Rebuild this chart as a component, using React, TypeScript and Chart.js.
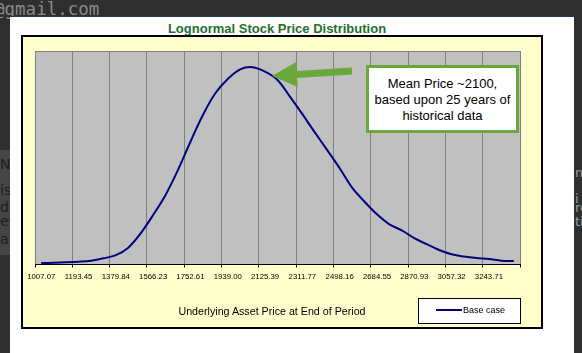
import React, { useEffect, useRef } from 'react';
import { Chart, registerables } from 'chart.js';

Chart.register(...registerables);

// ---- data ----
const categories: string[] = [
  '1007.07', '1069.20', '1131.33', '1193.45', '1255.58', '1317.71', '1379.84', '1441.97',
  '1504.10', '1566.23', '1628.36', '1690.48', '1752.61', '1814.74', '1876.87', '1939.00',
  '2001.13', '2063.26', '2125.39', '2187.52', '2249.64', '2311.77', '2373.90', '2436.03',
  '2498.16', '2560.29', '2622.42', '2684.55', '2746.67', '2808.80', '2870.93', '2933.06',
  '2995.19', '3057.32', '3119.45', '3181.58', '3243.71', '3305.83', '3367.96',
];

const baseCase: number[] = [
  0.07, 0.08, 0.10, 0.13, 0.18, 0.29, 0.44, 0.79,
  1.46, 2.32, 3.26, 4.43, 5.75, 7.00, 8.02, 8.69,
  9.14, 9.24, 9.03, 8.64, 7.86, 7.04, 6.19, 5.36,
  4.51, 3.60, 2.94, 2.35, 1.88, 1.60, 1.23, 0.95,
  0.68, 0.48, 0.37, 0.30, 0.26, 0.18, 0.16,
];

const LABEL_EVERY = 3;
const Y_MAX = 10;

const chartTitle = 'Lognormal Stock Price Distribution';
const xAxisTitle = 'Underlying Asset Price at End of Period';
const seriesName = 'Base case';
const noteLines = ['Mean Price ~2100,', 'based upon 25 years of', 'historical data'];

const FONT = "'Liberation Sans', Arial, sans-serif";
const NAVY = '#000080';
const GREEN = '#6aa83c';

export default function App() {
  const ref = useRef<HTMLCanvasElement>(null);

  useEffect(() => {
    document.body.style.margin = '0';
    const canvas = ref.current;
    if (!canvas) return;

    const plotBg = {
      id: 'plotBg',
      beforeDraw(chart: any) {
        const { ctx, chartArea: a } = chart;
        ctx.save();
        ctx.fillStyle = '#c0c0c0';
        ctx.fillRect(a.left, a.top, a.right - a.left, a.bottom - a.top);
        ctx.strokeStyle = '#808080';
        ctx.lineWidth = 1;
        ctx.beginPath();
        const ty = Math.round(a.top) + 0.5;
        ctx.moveTo(a.left, ty);
        ctx.lineTo(a.right, ty);
        ctx.stroke();
        ctx.restore();
      },
    };

    const arrow = {
      id: 'arrow',
      afterDatasetsDraw(chart: any) {
        const { ctx, chartArea: a } = chart;
        const tx = a.left + 237;
        const ty = a.top + 25;
        const dx = 80, dy = -5;
        const len = Math.hypot(dx, dy);
        const ux = dx / len, uy = dy / len;
        const nx = -uy, ny = ux;
        const headLen = 25, headHalf = 12.5, shaftHalf = 3.5;
        const bx = tx + ux * headLen, by = ty + uy * headLen;
        const ex = tx + dx, ey = ty + dy;
        ctx.save();
        ctx.fillStyle = GREEN;
        ctx.beginPath();
        ctx.moveTo(tx, ty);
        ctx.lineTo(bx + nx * headHalf, by + ny * headHalf);
        ctx.lineTo(bx + nx * shaftHalf, by + ny * shaftHalf);
        ctx.lineTo(ex + nx * shaftHalf, ey + ny * shaftHalf);
        ctx.lineTo(ex - nx * shaftHalf, ey - ny * shaftHalf);
        ctx.lineTo(bx - nx * shaftHalf, by - ny * shaftHalf);
        ctx.lineTo(bx - nx * headHalf, by - ny * headHalf);
        ctx.closePath();
        ctx.fill();
        ctx.restore();
      },
    };

    const shown = (c: any) => c.index === undefined || c.index % LABEL_EVERY === 0;

    const chart = new Chart(canvas, {
      type: 'line',
      data: {
        labels: categories,
        datasets: [
          {
            label: seriesName,
            data: baseCase,
            borderColor: NAVY,
            backgroundColor: NAVY,
            borderWidth: 2,
            pointRadius: 0,
            tension: 0.35,
            fill: false,
          },
        ],
      },
      options: {
        animation: false,
        responsive: false,
        devicePixelRatio: 1,
        layout: { padding: { left: 35, right: 62, top: 51, bottom: 0 } },
        plugins: {
          legend: { display: false },
          title: { display: false },
          tooltip: { enabled: false },
        },
        scales: {
          x: {
            type: 'category',
            offset: true,
            grid: {
              offset: true,
              drawOnChartArea: true,
              drawTicks: true,
              tickLength: 3,
              lineWidth: 1,
              color: (c: any) => (shown(c) ? '#808080' : 'rgba(0,0,0,0)'),
              tickColor: (c: any) => (shown(c) ? '#000000' : 'rgba(0,0,0,0)'),
            },
            border: { display: true, color: '#000000', width: 1 },
            ticks: {
              autoSkip: false,
              maxRotation: 0,
              minRotation: 0,
              padding: 5,
              color: '#000000',
              font: { family: FONT, size: 7.8 },
              callback: function (this: any, value: any, index: number) {
                return index % LABEL_EVERY === 0 ? this.getLabelForValue(value) : '';
              },
            },
            afterFit: (scale: any) => {
              scale.height = 88.5;
            },
          },
          y: {
            display: false,
            min: 0,
            max: Y_MAX,
          },
        },
      } as any,
      plugins: [plotBg, arrow],
    });

    return () => chart.destroy();
  }, []);

  const abs: React.CSSProperties = { position: 'absolute' };
  const centered: React.CSSProperties = {
    position: 'absolute',
    transform: 'translate(-50%, -50%)',
    whiteSpace: 'nowrap',
    lineHeight: 1,
    fontFamily: FONT,
  };

  return (
    <div
      style={{
        position: 'fixed',
        left: 0,
        top: 0,
        width: 582,
        height: 353,
        background: '#2f2f2f',
        overflow: 'hidden',
      }}
    >
      {/* background page fragments */}
      <div
        style={{
          ...abs,
          left: -6,
          top: 1,
          fontFamily: "'DejaVu Sans Mono', monospace",
          fontSize: 17.5,
          lineHeight: 1,
          color: '#8a8a8a',
          whiteSpace: 'nowrap',
        }}
      >
        @gmail.com
      </div>
      <div style={{ ...abs, left: 0, top: 150, width: 10, height: 105, background: '#454545' }} />
      {['N', 'is', 'd', 'evi', 'a'].map((t, i) => (
        <div
          key={i}
          style={{
            ...abs,
            left: 0,
            top: [157, 183, 200, 214, 232][i],
            fontFamily: "'DejaVu Sans', sans-serif",
            fontSize: 14,
            lineHeight: 1,
            color: '#1c1c2c',
            whiteSpace: 'nowrap',
          }}
        >
          {t}
        </div>
      ))}
      {['na', 'i', 're', 'ti'].map((t, i) => (
        <div
          key={'r' + i}
          style={{
            ...abs,
            left: 575,
            top: [166, 192, 201, 215][i],
            fontFamily: "'DejaVu Sans', sans-serif",
            fontSize: 13,
            lineHeight: 1,
            color: '#9a9a9a',
            whiteSpace: 'nowrap',
          }}
        >
          {t}
        </div>
      ))}

      {/* white modal */}
      <div
        style={{
          ...abs,
          left: 10,
          top: 16,
          width: 564,
          height: 337,
          background: '#ffffff',
          borderTop: '1px solid #1e3a5a',
          boxSizing: 'border-box',
        }}
      />

      {/* chart title */}
      <div
        style={{
          ...centered,
          left: 277,
          top: 28,
          fontSize: 13,
          fontWeight: 'bold',
          color: '#1f6f30',
        }}
      >
        {chartTitle}
      </div>

      {/* yellow chart box */}
      <div
        style={{
          ...abs,
          left: 21,
          top: 35,
          width: 522,
          height: 294,
          background: '#ffffcc',
          border: '2px solid #000000',
          boxSizing: 'border-box',
        }}
      />

      <canvas ref={ref} width={582} height={353} style={{ position: 'absolute', left: 0, top: 0 }} />

      {/* x-axis title */}
      <div style={{ ...centered, left: 272, top: 310.5, fontSize: 10.7, color: '#000000' }}>
        {xAxisTitle}
      </div>

      {/* legend */}
      <div
        style={{
          ...abs,
          left: 418,
          top: 298,
          width: 103,
          height: 26,
          background: '#ffffff',
          border: '1px solid #000000',
          boxSizing: 'border-box',
        }}
      >
        <div style={{ ...abs, left: 17, top: 10, width: 26, height: 2, background: NAVY }} />
        <div style={{ ...centered, left: 44, top: 11, transform: 'translate(0, -50%)', fontSize: 9, color: '#000' }}>
          {seriesName}
        </div>
      </div>

      {/* annotation callout */}
      <div
        style={{
          ...abs,
          left: 366,
          top: 65,
          width: 153,
          height: 68,
          background: '#ffffff',
          border: '3px solid ' + GREEN,
          boxSizing: 'border-box',
          overflow: 'hidden',
        }}
      >
        <div
          style={{
            ...abs,
            left: 0,
            right: 0,
            top: 8,
            textAlign: 'center',
            fontFamily: FONT,
            fontSize: 13,
            lineHeight: '16px',
            color: '#000000',
            whiteSpace: 'nowrap',
          }}
        >
          {noteLines.map((l, i) => (
            <div key={i}>{l}</div>
          ))}
        </div>
      </div>
    </div>
  );
}
